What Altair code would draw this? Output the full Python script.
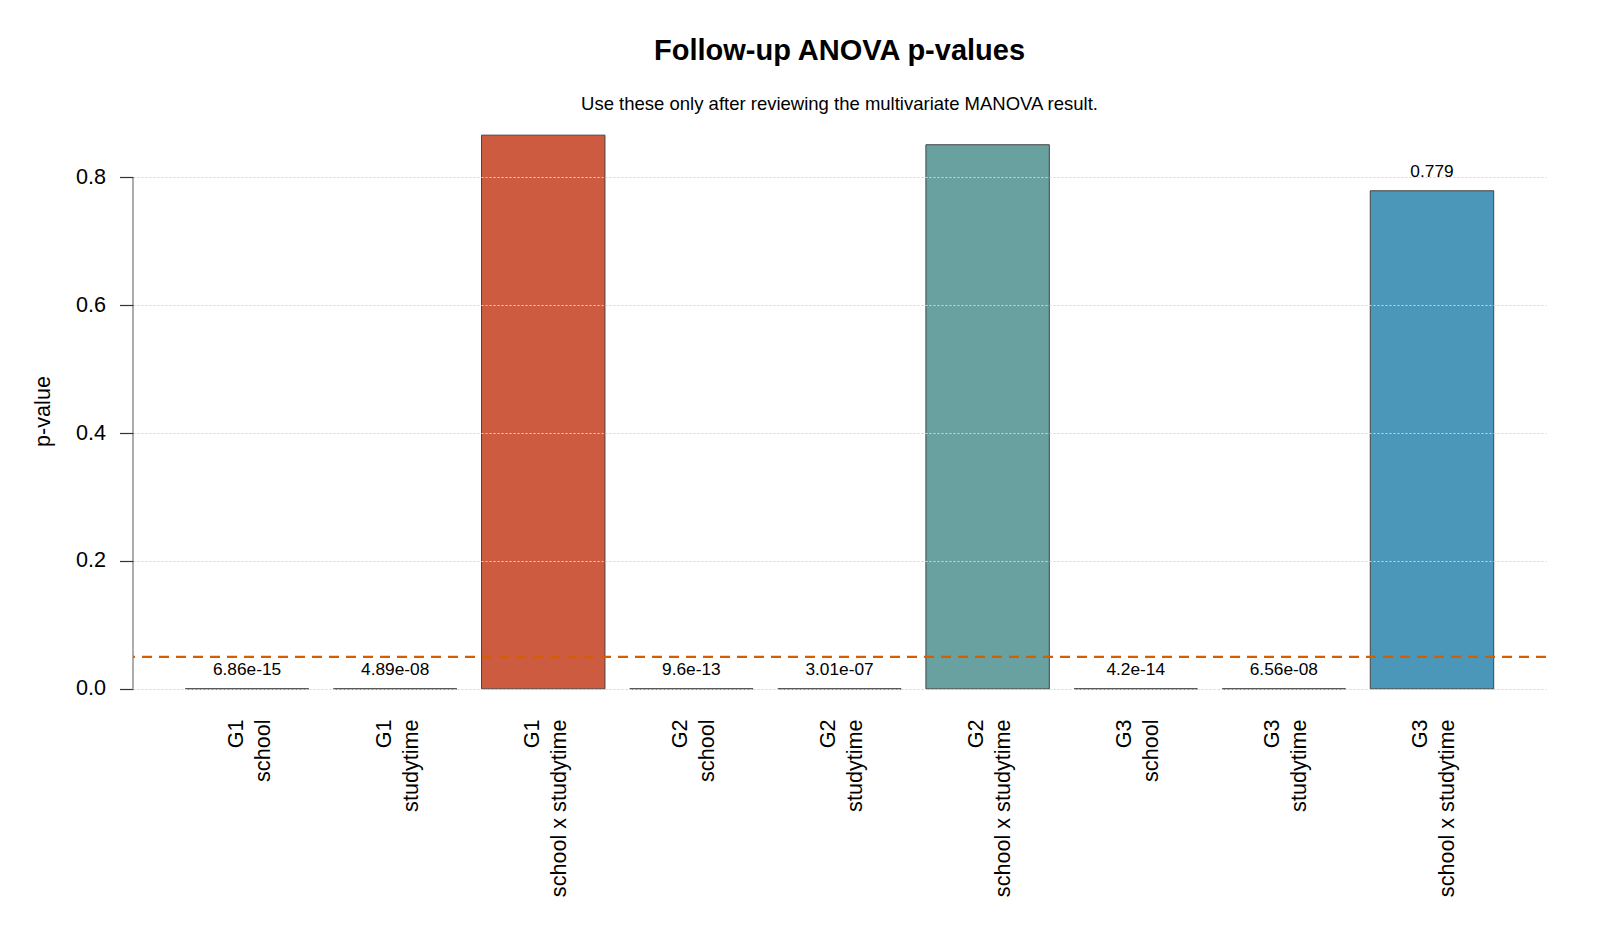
import altair as alt
import pandas as pd

FONT = "Liberation Sans"

# Follow-up univariate ANOVA results, one bar per response/term pair
responses = ["G1", "G1", "G1", "G2", "G2", "G2", "G3", "G3", "G3"]
terms = ["school", "studytime", "school x studytime"] * 3
p_values = [6.86e-15, 4.89e-08, 0.866, 9.6e-13, 3.01e-07, 0.851, 4.2e-14, 6.56e-08, 0.779]
response_names = ["G1", "G2", "G3"]
response_colors = ["#CD5B3F", "#68A19F", "#4B97B9"]
alpha_level = 0.05
y_ticks = [0.0, 0.2, 0.4, 0.6, 0.8]

df = pd.DataFrame({"response": responses, "term": terms, "p": p_values})
df["effect"] = df["response"] + "|" + df["term"]
df["label"] = [f"{v:.3g}" for v in p_values]
order = list(df["effect"])

# 4% breathing room above the tallest bar and below zero
y_max = max(p_values)
y_scale = alt.Scale(domain=[-0.04 * y_max, 1.04 * y_max], nice=False, zero=False)

x_enc = alt.X(
    "effect:N", sort=order, title=None,
    scale=alt.Scale(paddingInner=0.1667, paddingOuter=0.353),
    axis=alt.Axis(labelAngle=-90, labelExpr="split(datum.label, '|')", ticks=False,
                  domain=False, grid=False, labelFontSize=21.6, labelLineHeight=27,
                  labelPadding=8, labelOffset=-10.5, labelColor="black",
                  labelFont=FONT, labelLimit=0),
)

bars = alt.Chart(df).mark_bar(stroke="#444444", strokeWidth=1).encode(
    x=x_enc,
    y=alt.Y("p:Q", scale=y_scale, title="p-value",
            axis=alt.Axis(values=y_ticks, format=".1f", domain=False, tickSize=13.5,
                          tickColor="#333333", tickWidth=1.2, labelPadding=14,
                          labelFontSize=21.6, labelFont=FONT, labelColor="black",
                          grid=True, gridColor="#d4d4d4", gridDash=[2, 2], gridWidth=1,
                          titleFont=FONT, titleFontSize=21.6, titleFontWeight="normal",
                          titleColor="black", titleAngle=270, titleX=-90, titleY=298,
                          titleAlign="center", titleBaseline="middle", zindex=1)),
    color=alt.Color("response:N", scale=alt.Scale(domain=response_names, range=response_colors),
                    legend=None),
)

# value labels; the ones for the tallest bars fall outside the panel and are left off
labels = alt.Chart(df).transform_filter("datum.p < 0.8").mark_text(
    dy=-19, baseline="middle", fontSize=17.3, font=FONT, color="black"
).encode(x=alt.X("effect:N", sort=order), y=alt.Y("p:Q", title="p-value"), text="label:N")

threshold = alt.Chart(pd.DataFrame({"p": [alpha_level]})).mark_rule(
    color="#D55E00", strokeDash=[10, 7], strokeWidth=2.3
).encode(y=alt.Y("p:Q", title="p-value"))

axis_line = alt.Chart(pd.DataFrame({"p": [0.0], "p_end": [0.8]})).mark_rule(
    color="#808080", strokeWidth=1.3
).encode(x=alt.value(0), y=alt.Y("p:Q", title="p-value"), y2="p_end:Q")

chart = alt.layer(bars, labels, threshold, axis_line).properties(
    width=1413,
    height=598,
    background="white",
    autosize=alt.AutoSizeParams(type="none"),
    padding={"left": 133, "top": 113, "right": 54, "bottom": 222},
    title=alt.TitleParams(
        "Follow-up ANOVA p-values",
        subtitle="Use these only after reviewing the multivariate MANOVA result.",
        anchor="middle", frame="group", font=FONT, fontSize=29, fontWeight="bold",
        color="black", subtitleFont=FONT, subtitleFontSize=18.5, subtitleColor="black",
        subtitlePadding=29, offset=0,
    ),
).configure_view(strokeWidth=0, stroke="transparent")

chart.save("out.html", embed_options={"renderer": "svg", "actions": False})
